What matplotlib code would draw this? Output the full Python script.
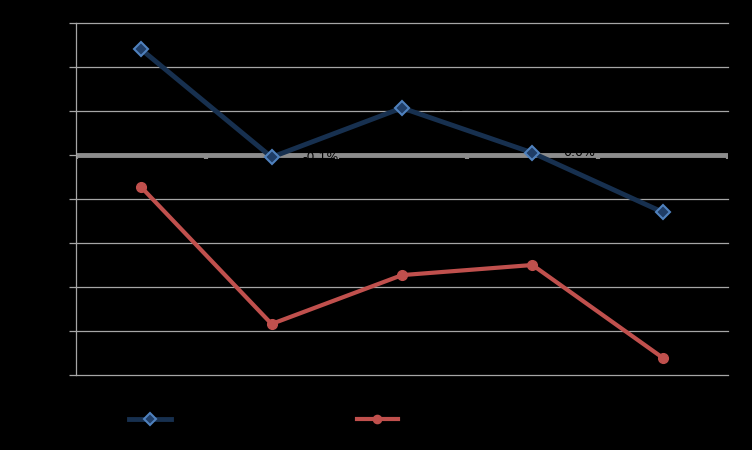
import matplotlib
matplotlib.use("Agg")
import matplotlib.pyplot as plt
import numpy as np

categories = ["2008", "2009", "2010", "2011", "2012"]
series_a = [2.4, -0.05, 1.07, 0.05, -1.3]
series_b = [-0.73, -3.84, -2.73, -2.5, -4.61]
labels_a = ["2.4%", "-0.1%", "1.1%", "0.0%", "-1.3%"]
labels_b = ["-0.7%", "-3.8%", "-2.7%", "-2.5%", "-4.6%"]
name_a = "Series A"
name_b = "Series B"
yticks = [3, 2, 1, 0, -1, -2, -3, -4, -5]

fig = plt.figure(figsize=(7.52, 4.5), dpi=100, facecolor="black")
ax = fig.add_axes([76/752, 1-375/450, 652/752, 352/450], facecolor="black")

x = np.arange(len(categories))
ax.set_xlim(-0.5, len(categories) - 0.5)
ax.set_ylim(-5, 3)

for t in yticks:
    if t == 0:
        continue
    ax.axhline(t, color="#a6a6a6", lw=0.9, zorder=1, clip_on=False)
ax.axhline(0, color="#8c8c8c", lw=3.5, zorder=2)

# category boundary ticks on the zero line
for b in np.arange(-0.5, len(categories), 1.0):
    ax.plot([b, b], [0, -0.1], color="#8c8c8c", lw=3, zorder=2, solid_capstyle="butt")

ax.plot(x, series_a, color="#17304f", lw=3.5, marker="D", ms=7.5,
        mfc="#1f3d66", mec="#4f81bd", mew=1.5, zorder=4, label=name_a)
ax.plot(x, series_b, color="#c0504d", lw=3, marker="o", ms=7,
        mfc="#c0504d", mec="#c0504d", zorder=4, label=name_b)

for xi, yi, lab in zip(x, series_a, labels_a):
    ax.annotate(lab, (xi, yi), xytext=(22, 0), textcoords="offset points",
                color="black", fontsize=9, va="center", zorder=5)
for i, (xi, yi, lab) in enumerate(zip(x, series_b, labels_b)):
    ax.annotate(lab, (xi, yi), xytext=(-6, 6), textcoords="offset points",
                color="black", fontsize=9, va="center", ha="right",
                zorder=5 if i == 0 else 3)

ax.set_yticks(yticks)
ax.set_yticklabels([f"{t}%" for t in yticks], color="black", fontsize=9)
ax.tick_params(axis="y", color="#a6a6a6", length=5, width=0.9)
ax.set_xticks(x)
ax.set_xticklabels(categories, color="black", fontsize=9)
ax.tick_params(axis="x", length=0)

for s in ["top", "right", "bottom"]:
    ax.spines[s].set_visible(False)
ax.spines["left"].set_color("#a6a6a6")
ax.spines["left"].set_linewidth(0.9)

leg = fig.legend(loc="lower left", bbox_to_anchor=(118/752, 0.028), ncol=2,
                 frameon=False, fontsize=9, handlelength=3.3, columnspacing=10,
                 markerscale=0.85)
for t in leg.get_texts():
    t.set_color("black")

fig.savefig("out.png", dpi=100, facecolor="black")
